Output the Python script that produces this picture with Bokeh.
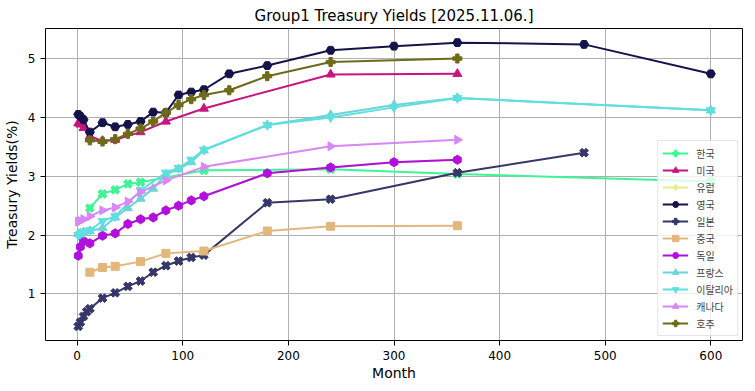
import math
from bokeh.plotting import figure
from bokeh.models import Range1d, FixedTicker, Legend, LegendItem
from bokeh.embed import file_html
from bokeh.resources import INLINE

names = ["한국", "미국", "유럽", "영국", "일본", "중국", "독일", "프랑스", "이탈리아", "캐나다", "호주"]

kr_m = [12, 24, 36, 48, 60, 120, 240, 360, 600]
kr_v = [2.46, 2.70, 2.77, 2.87, 2.90, 3.10, 3.12, 3.04, 2.91]

us_m = [1, 3, 6, 12, 24, 36, 60, 84, 120, 240, 360]
us_v = [3.90, 3.88, 3.82, 3.68, 3.60, 3.62, 3.75, 3.93, 4.15, 4.73, 4.74]

de_m = [1, 3, 6, 12, 24, 36, 48, 60, 72, 84, 96, 108, 120, 180, 240, 300, 360]
de_v = [1.65, 1.80, 1.90, 1.86, 1.99, 2.03, 2.19, 2.27, 2.30, 2.42, 2.50, 2.59, 2.66, 3.05, 3.15, 3.24, 3.28]

eu_m = de_m
eu_v = de_v

uk_m = [1, 3, 6, 12, 24, 36, 48, 60, 72, 84, 96, 108, 120, 144, 180, 240, 300, 360, 480, 600]
uk_v = [4.05, 4.02, 3.96, 3.75, 3.91, 3.84, 3.88, 3.93, 4.09, 4.08, 4.38, 4.43, 4.47, 4.74, 4.88, 5.14, 5.21, 5.27, 5.24, 4.74]

jp_m = [1, 3, 6, 9, 12, 24, 36, 48, 60, 72, 84, 96, 108, 120, 180, 240, 360, 480]
jp_v = [0.45, 0.52, 0.62, 0.70, 0.75, 0.93, 1.02, 1.13, 1.22, 1.37, 1.48, 1.56, 1.62, 1.66, 2.55, 2.61, 3.06, 3.40]

cn_m = [12, 24, 36, 60, 84, 120, 180, 240, 360]
cn_v = [1.37, 1.45, 1.47, 1.55, 1.69, 1.73, 2.07, 2.15, 2.16]

fr_m = [1, 3, 6, 12, 24, 36, 48, 60, 72, 84, 96, 108, 120, 180, 240, 300, 360, 600]
fr_v = [2.02, 2.03, 2.05, 2.07, 2.12, 2.30, 2.46, 2.62, 2.79, 3.03, 3.12, 3.24, 3.44, 3.87, 4.04, 4.21, 4.33, 4.12]

it_m = [1, 3, 6, 12, 24, 36, 60, 84, 96, 108, 120, 180, 240, 300, 360, 600]
it_v = [2.00, 2.02, 2.04, 2.08, 2.24, 2.32, 2.76, 3.06, 3.14, 3.28, 3.45, 3.87, 4.00, 4.17, 4.33, 4.12]

ca_m = [1, 3, 6, 12, 24, 36, 48, 60, 84, 120, 240, 360]
ca_v = [2.23, 2.24, 2.27, 2.32, 2.42, 2.47, 2.57, 2.73, 2.93, 3.16, 3.51, 3.62]

au_m = [12, 24, 36, 48, 60, 72, 84, 96, 108, 120, 144, 180, 240, 360]
au_v = [3.61, 3.59, 3.63, 3.72, 3.81, 3.93, 4.08, 4.21, 4.31, 4.38, 4.46, 4.70, 4.94, 5.00]

x_ticks = [0, 100, 200, 300, 400, 500, 600]
y_ticks = [1, 2, 3, 4, 5]

series = [
    (kr_m, kr_v, "#3ef596", "plus", math.pi / 4, 9),
    (us_m, us_v, "#c7157f", "triangle", 0, 9),
    (eu_m, eu_v, "#ecec86", "diamond", 0, 11),
    (uk_m, uk_v, "#15134a", "hex", 0, 9),
    (jp_m, jp_v, "#363668", "plus", math.pi / 4, 9),
    (cn_m, cn_v, "#e3b77c", "square", 0, 8),
    (de_m, de_v, "#b20ee0", "hex", math.pi / 6, 9),
    (fr_m, fr_v, "#6cd4d4", "triangle", 0, 9),
    (it_m, it_v, "#5ee0e0", "inverted_triangle", 0, 9),
    (ca_m, ca_v, "#d986f7", "triangle", -math.pi / 2, 9),
    (au_m, au_v, "#6d6a18", "plus", 0, 9),
]

p = figure(frame_width=697, frame_height=312, output_backend="svg", toolbar_location=None,
           x_range=Range1d(-30, 630), y_range=Range1d(0.21, 5.51),
           min_border_left=40, min_border_right=2, min_border_top=0, min_border_bottom=4,
           title="Group1 Treasury Yields [2025.11.06.]")

p.title.align = "center"
p.title.text_font = "DejaVu Sans"
p.title.text_font_size = "15px"
p.title.text_font_style = "normal"
p.title.text_color = "black"
p.title.standoff = 8

p.outline_line_color = "black"
p.outline_line_width = 1

for ax in (p.xaxis, p.yaxis):
    ax.major_label_text_font = "DejaVu Sans"
    ax.major_label_text_font_size = "12px"
    ax.major_label_text_color = "black"
    ax.axis_label_text_font = "DejaVu Sans"
    ax.axis_label_text_font_size = "14px"
    ax.axis_label_text_font_style = "normal"
    ax.axis_label_text_color = "black"
    ax.minor_tick_line_color = None
    ax.major_tick_out = 5
    ax.major_tick_in = 0
    ax.major_tick_line_color = "black"
    ax.axis_line_color = None

p.xaxis.axis_label = "Month"
p.yaxis.axis_label = "Treasury Yields(%)"
p.xaxis.ticker = FixedTicker(ticks=x_ticks)
p.yaxis.ticker = FixedTicker(ticks=y_ticks)
p.xaxis.axis_label_standoff = 2
p.yaxis.axis_label_standoff = 5

p.xgrid.ticker = FixedTicker(ticks=x_ticks)
p.ygrid.ticker = FixedTicker(ticks=y_ticks)
for g in (p.xgrid, p.ygrid):
    g.grid_line_color = "#b0b0b0"
    g.grid_line_width = 1

items = []
for name, (m, v, color, marker, ang, size) in zip(names, series):
    r1 = p.line(m, v, line_color=color, line_width=2)
    r2 = p.scatter(m, v, marker=marker, angle=ang, size=size, fill_color=color, line_color=color)
    items.append(LegendItem(label=name, renderers=[r1, r2]))

legend = Legend(items=items, location="bottom_right")
legend.label_text_font = "Noto Sans CJK KR"
legend.label_text_font_size = "10px"
legend.glyph_height = 16
legend.glyph_width = 26
legend.spacing = 1
legend.padding = 4
legend.margin = 4
legend.label_standoff = 8
legend.border_line_color = "#cccccc"
legend.background_fill_alpha = 0.8
p.add_layout(legend)

open("out.html", "w").write(file_html(p, INLINE))
